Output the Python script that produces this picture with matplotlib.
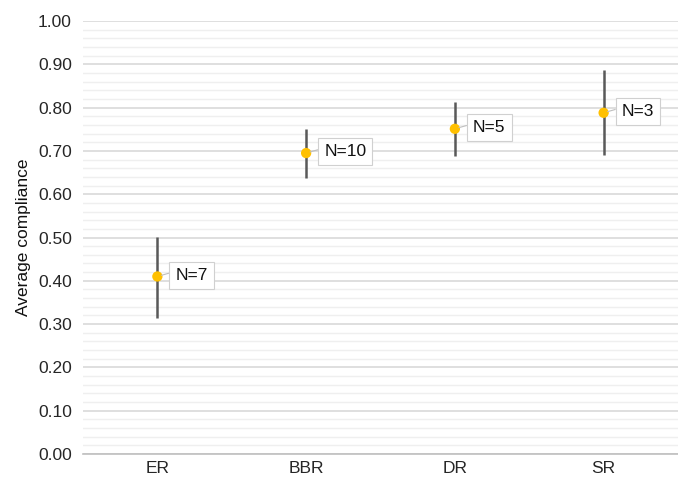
import matplotlib.pyplot as plt
import numpy as np
from matplotlib.ticker import MultipleLocator

plt.rcParams['font.family'] = ['Liberation Sans', 'DejaVu Sans']

# ---- data ----
categories = ['ER', 'BBR', 'DR', 'SR']
mean_compliance = [0.41, 0.695, 0.751, 0.788]
upper_bound = [0.502, 0.751, 0.813, 0.887]
lower_bound = [0.314, 0.637, 0.688, 0.691]
sample_sizes = [7, 10, 5, 3]

fig = plt.figure(figsize=(6.78, 4.84), dpi=100)
ax = fig.add_axes([83 / 678, 30 / 484, 595 / 678, 433 / 484])

x = np.arange(len(categories))

# grid: major every 0.1, minor every 0.02
ax.yaxis.set_major_locator(MultipleLocator(0.1))
ax.yaxis.set_minor_locator(MultipleLocator(0.02))
ax.grid(which='major', axis='y', color='#d9d9d9', linewidth=1.2)
ax.grid(which='minor', axis='y', color='#efefef', linewidth=1.0)
ax.set_axisbelow(True)

# min-max ranges and means
ax.vlines(x, lower_bound, upper_bound, color='#595959', linewidth=1.8, zorder=3)
ax.scatter(x, mean_compliance, s=55, color='#ffc000', zorder=4, edgecolors='none')

# N labels with leader lines
for xi, yi, n in zip(x, mean_compliance, sample_sizes):
    ax.annotate(f'N={n}', xy=(xi, yi), xytext=(13, 1), textcoords='offset points',
                ha='left', va='center', fontsize=12.5, color='#111111',
                bbox=dict(boxstyle='square,pad=0.35', fc='white', ec='#d0d0d0', lw=0.8),
                arrowprops=dict(arrowstyle='-', color='#bfbfbf', lw=0.8,
                                shrinkA=0, shrinkB=3, relpos=(0, 0.75)),
                zorder=5)

ax.set_xlim(-0.5, len(categories) - 0.5)
ax.set_ylim(0, 1.0)
ax.set_xticks(x)
ax.set_xticklabels(categories, fontsize=12.5, color='#262626')
yticks = np.arange(0, 1.01, 0.1)
ax.set_yticks(yticks)
ax.set_yticklabels([f'{v:.2f}' for v in yticks], fontsize=12.5, color='#262626')
ax.tick_params(axis='both', which='both', length=0, pad=8)
ax.tick_params(axis='x', pad=5)

for side in ['top', 'right', 'left']:
    ax.spines[side].set_visible(False)
ax.spines['bottom'].set_color('#bfbfbf')
ax.spines['bottom'].set_linewidth(1.2)

ax.set_ylabel('Average compliance', fontsize=12.5, color='#111111', labelpad=5)

fig.savefig('out.png', dpi=100, facecolor='white')
